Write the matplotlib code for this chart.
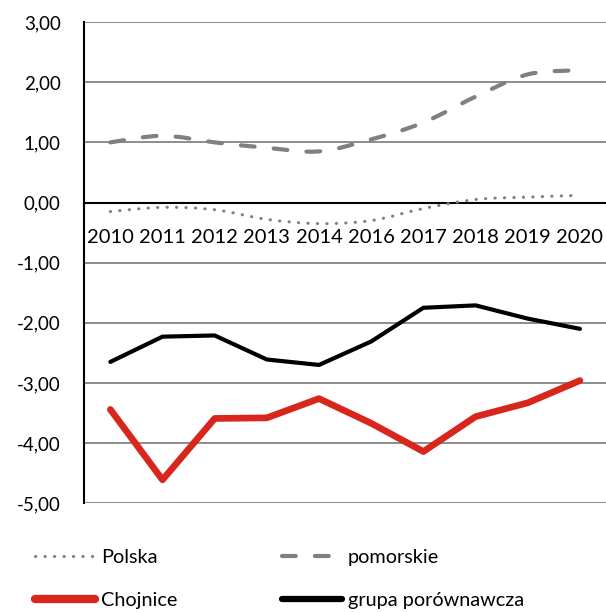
import numpy as np
import matplotlib
matplotlib.use('Agg')
import matplotlib.pyplot as plt
from matplotlib.path import Path
from matplotlib.patches import PathPatch
from matplotlib.lines import Line2D

# dane
years = ['2010', '2011', '2012', '2013', '2014', '2016', '2017', '2018', '2019', '2020']
polska = [-0.15, -0.08, -0.12, -0.28, -0.35, -0.30, -0.10, 0.05, 0.09, 0.12]
pomorskie = [1.00, 1.11, 1.00, 0.91, 0.85, 1.05, 1.33, 1.76, 2.13, 2.20]
chojnice = [-3.44, -4.61, -3.59, -3.58, -3.26, -3.67, -4.14, -3.56, -3.33, -2.96]
grupa = [-2.65, -2.23, -2.21, -2.61, -2.70, -2.31, -1.75, -1.71, -1.93, -2.10]
yticks = [3, 2, 1, 0, -1, -2, -3, -4, -5]

GRAY = '#808080'
RED = '#d9261c'
DOT = (0, (0.1, 3.0))
DASH = (0, (3.3, 4.6))

plt.rcParams['font.family'] = ['Lato', 'DejaVu Sans']


def smooth_path(x, y):
    # wygladzona linia (jak w Excelu) - krzywe Beziera przez punkty
    x = np.asarray(x, float)
    y = np.asarray(y, float)
    verts = [(x[0], y[0])]
    codes = [Path.MOVETO]
    n = len(x)
    for i in range(n - 1):
        p0 = np.array([x[max(i - 1, 0)], y[max(i - 1, 0)]])
        p1 = np.array([x[i], y[i]])
        p2 = np.array([x[i + 1], y[i + 1]])
        p3 = np.array([x[min(i + 2, n - 1)], y[min(i + 2, n - 1)]])
        c1 = p1 + (p2 - p0) / 6
        c2 = p2 - (p3 - p1) / 6
        verts += [tuple(c1), tuple(c2), tuple(p2)]
        codes += [Path.CURVE4] * 3
    return Path(verts, codes)


fig = plt.figure(figsize=(6.06, 6.13), dpi=100)
ax = fig.add_axes([0.139, 0.179, 0.861, 0.785])

x = np.arange(len(years))

for yv in yticks:
    if yv != 0:
        ax.axhline(yv, color='#8c8c8c', lw=1.4, zorder=1)

ax.add_patch(PathPatch(smooth_path(x, polska), fill=False, edgecolor=GRAY,
                       lw=2.2, linestyle=DOT, capstyle='round', zorder=3))
ax.add_patch(PathPatch(smooth_path(x, pomorskie), fill=False, edgecolor=GRAY,
                       lw=3, linestyle=DASH, capstyle='round', zorder=3))
ax.plot(x, chojnice, color=RED, lw=4.8, solid_capstyle='round', solid_joinstyle='round', zorder=4)
ax.plot(x, grupa, color='black', lw=3, solid_capstyle='round', solid_joinstyle='round', zorder=4)

# os x na wysokosci 0 (set_position resetuje ticki, wiec najpierw)
ax.spines['bottom'].set_position(('data', 0))
ax.spines['bottom'].set_color('black')
ax.spines['bottom'].set_linewidth(1.5)
ax.spines['top'].set_visible(False)
ax.spines['right'].set_visible(False)
ax.spines['left'].set_color('black')
ax.spines['left'].set_linewidth(1.5)

ax.set_xlim(-0.5, len(years) - 0.5)
ax.set_ylim(-5, 3)
ax.set_yticks(yticks)
ax.set_yticklabels([('%.2f' % v).replace('.', ',') for v in yticks])
ax.tick_params(axis='y', length=0, pad=17, labelsize=13.5)

ax.set_xticks(x)
ax.set_xticklabels(years)
ax.tick_params(axis='x', length=0, pad=19, labelsize=14.5)

# kolejnosc: kolumnami -> wiersze Polska/pomorskie, Chojnice/grupa
handles = [
    Line2D([], [], color=GRAY, lw=2.2, linestyle=DOT, dash_capstyle='round'),
    Line2D([], [], color=RED, lw=6, solid_capstyle='round'),
    Line2D([], [], color=GRAY, lw=3, linestyle=DASH, dash_capstyle='round'),
    Line2D([], [], color='black', lw=4.5, solid_capstyle='round'),
]
names = ['Polska', 'Chojnice', 'pomorskie', 'grupa porównawcza']
fig.legend(handles, names, loc='upper left', bbox_to_anchor=(0.058, 0.104), ncol=2,
           frameon=False, fontsize=14.3, handlelength=3.0, handletextpad=0.3,
           columnspacing=5.3, labelspacing=1.3, borderpad=0, borderaxespad=0)

fig.savefig('out.png', dpi=100)
